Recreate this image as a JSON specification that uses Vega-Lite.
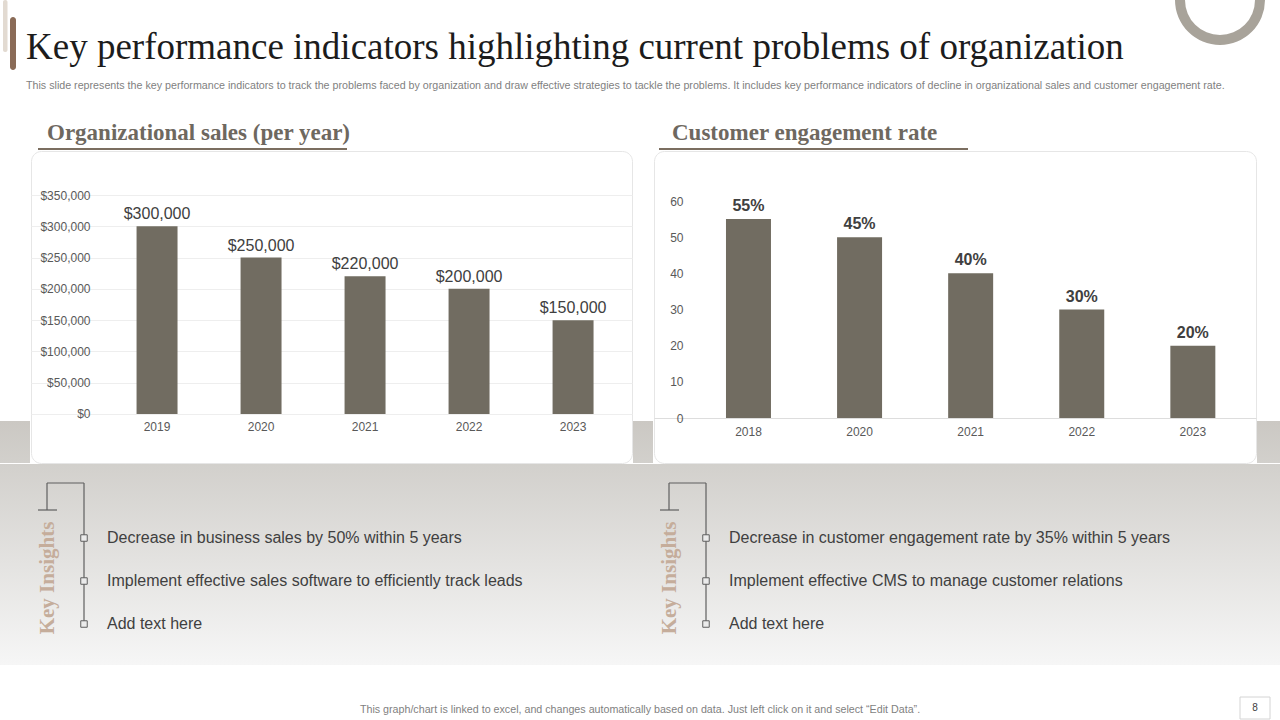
{
  "$schema": "https://vega.github.io/schema/vega-lite/v6.json",
  "background": "white",
  "padding": 0,
  "spacing": 0,
  "config": {
    "view": {"stroke": null},
    "font": "Liberation Sans",
    "axis": {"labelFont": "Liberation Sans"}
  },
  "vconcat": [
    {
      "width": 1280,
      "height": 150,
      "layer": [
        {
          "data": {"values": [{}]},
          "mark": {"type": "rect", "color": "#e2dad1", "cornerRadius": 2},
          "encoding": {"x": {"value": 3}, "x2": {"value": 7.5}, "y": {"value": 0}, "y2": {"value": 52}}
        },
        {
          "data": {"values": [{}]},
          "mark": {"type": "rect", "color": "#8a6b57", "cornerRadius": 3},
          "encoding": {"x": {"value": 10}, "x2": {"value": 16}, "y": {"value": 17}, "y2": {"value": 70}}
        },
        {
          "data": {"values": [{}]},
          "mark": {"type": "arc", "x": 1220, "y": 0, "radius": 45, "radius2": 35, "theta": 0, "theta2": 6.2832, "color": "#a8a39a", "clip": true},
          "encoding": {}
        },
        {
          "data": {"values": [{"text": "Key performance indicators highlighting current problems of organization"}]},
          "mark": {"type": "text", "align": "left", "baseline": "alphabetic", "font": "Liberation Serif", "fontSize": 37, "color": "#1c1c1c"},
          "encoding": {"x": {"value": 26}, "y": {"value": 59}, "text": {"field": "text"}}
        },
        {
          "data": {"values": [{"text": "This slide represents the key performance indicators to track the problems faced by organization and draw effective strategies to tackle the problems. It includes key performance indicators of decline in organizational sales and customer engagement rate."}]},
          "mark": {"type": "text", "align": "left", "baseline": "alphabetic", "font": "Liberation Sans", "fontSize": 10.7, "color": "#7f7f7f"},
          "encoding": {"x": {"value": 26}, "y": {"value": 88.5}, "text": {"field": "text"}}
        },
        {
          "data": {"values": [{"text": "Organizational sales (per year)"}]},
          "mark": {"type": "text", "align": "left", "baseline": "alphabetic", "font": "Liberation Serif", "fontWeight": "bold", "fontSize": 23, "color": "#6e685f"},
          "encoding": {"x": {"value": 47}, "y": {"value": 140}, "text": {"field": "text"}}
        },
        {
          "data": {"values": [{"text": "Customer engagement rate"}]},
          "mark": {"type": "text", "align": "left", "baseline": "alphabetic", "font": "Liberation Serif", "fontWeight": "bold", "fontSize": 23, "color": "#6e685f"},
          "encoding": {"x": {"value": 672}, "y": {"value": 140}, "text": {"field": "text"}}
        },
        {
          "data": {"values": [{}]},
          "mark": {"type": "rule", "color": "#7b6e60", "strokeWidth": 2},
          "encoding": {"x": {"value": 38}, "x2": {"value": 347}, "y": {"value": 149}}
        },
        {
          "data": {"values": [{}]},
          "mark": {"type": "rule", "color": "#7b6e60", "strokeWidth": 2},
          "encoding": {"x": {"value": 659}, "x2": {"value": 968}, "y": {"value": 149}}
        }
      ]
    },
    {
      "spacing": 0,
      "hconcat": [
        {
          "width": 30,
          "height": 312,
          "view": {"fill": {"gradient": "linear", "x1": 0, "y1": 0, "x2": 0, "y2": 1, "stops": [{"offset": 0, "color": "#ffffff"}, {"offset": 0.865, "color": "#ffffff"}, {"offset": 0.866, "color": "#cbc8c3"}, {"offset": 1, "color": "#d2d0cc"}]}},
          "data": {"values": [{}]},
          "mark": "text",
          "encoding": {}
        },
        {
          "width": 601,
          "height": 312,
          "view": {"fill": "white", "stroke": "#e6e6e6", "cornerRadius": 10},
          "data": {"values": [
            {"year": "2019", "sales": 300000},
            {"year": "2020", "sales": 250000},
            {"year": "2021", "sales": 220000},
            {"year": "2022", "sales": 200000},
            {"year": "2023", "sales": 150000}
          ]},
          "encoding": {
            "x": {
              "field": "year", "type": "ordinal",
              "scale": {"paddingInner": 0.606, "paddingOuter": 0.6923, "align": 0.733},
              "axis": {"orient": "bottom", "offset": -49, "title": null, "domain": false, "ticks": false, "tickSize": 0, "labelPadding": 7, "labelFontSize": 12, "labelColor": "#595959", "labelAngle": 0, "grid": false}
            },
            "y": {
              "field": "sales", "type": "quantitative",
              "scale": {"domain": [-78311, 420320], "nice": false, "zero": false},
              "axis": {"orient": "left", "offset": -63, "values": [0, 50000, 100000, 150000, 200000, 250000, 300000, 350000], "format": "$,.0f", "title": null, "domain": false, "ticks": false, "tickSize": 0, "labelPadding": 4, "grid": true, "gridColor": "#eeeeee", "labelFontSize": 12, "labelColor": "#595959"}
            }
          },
          "layer": [
            {"mark": {"type": "bar", "color": "#716c61"}, "encoding": {"y2": {"datum": 0}}},
            {"mark": {"type": "text", "dy": -7, "baseline": "alphabetic", "fontSize": 16, "color": "#404040"}, "encoding": {"text": {"field": "sales", "type": "quantitative", "format": "$,.0f"}}}
          ]
        },
        {
          "width": 20,
          "height": 312,
          "view": {"fill": {"gradient": "linear", "x1": 0, "y1": 0, "x2": 0, "y2": 1, "stops": [{"offset": 0, "color": "#ffffff"}, {"offset": 0.865, "color": "#ffffff"}, {"offset": 0.866, "color": "#cbc8c3"}, {"offset": 1, "color": "#d2d0cc"}]}},
          "data": {"values": [{}]},
          "mark": "text",
          "encoding": {}
        },
        {
          "width": 602,
          "height": 312,
          "view": {"fill": "white", "stroke": "#e6e6e6", "cornerRadius": 10},
          "data": {"values": [
            {"year": "2018", "rate": 55, "label": "55%"},
            {"year": "2020", "rate": 50, "label": "45%"},
            {"year": "2021", "rate": 40, "label": "40%"},
            {"year": "2022", "rate": 30, "label": "30%"},
            {"year": "2023", "rate": 20, "label": "20%"}
          ]},
          "encoding": {
            "x": {
              "field": "year", "type": "ordinal",
              "scale": {"paddingInner": 0.595, "paddingOuter": 0.507, "align": 0.639},
              "axis": {"orient": "bottom", "offset": -45, "title": null, "domain": true, "domainColor": "#dddddd", "ticks": false, "tickSize": 0, "labelPadding": 8, "labelFontSize": 12, "labelColor": "#595959", "labelAngle": 0, "grid": false}
            },
            "y": {
              "field": "rate", "type": "quantitative",
              "scale": {"domain": [-12.44, 73.825], "nice": false, "zero": false},
              "axis": {"orient": "left", "offset": -33, "values": [0, 10, 20, 30, 40, 50, 60], "title": null, "domain": false, "ticks": false, "tickSize": 0, "labelPadding": 4, "grid": false, "labelFontSize": 12, "labelColor": "#595959"}
            }
          },
          "layer": [
            {"mark": {"type": "bar", "color": "#716c61"}, "encoding": {"y2": {"datum": 0}}},
            {"mark": {"type": "text", "dy": -8, "baseline": "alphabetic", "fontSize": 16, "fontWeight": "bold", "color": "#404040"}, "encoding": {"text": {"field": "label"}}}
          ]
        },
        {
          "width": 27,
          "height": 312,
          "view": {"fill": {"gradient": "linear", "x1": 0, "y1": 0, "x2": 0, "y2": 1, "stops": [{"offset": 0, "color": "#ffffff"}, {"offset": 0.865, "color": "#ffffff"}, {"offset": 0.866, "color": "#cbc8c3"}, {"offset": 1, "color": "#d2d0cc"}]}},
          "data": {"values": [{}]},
          "mark": "text",
          "encoding": {}
        }
      ]
    },
    {
      "spacing": 0,
      "hconcat": [
        {
          "width": 622,
          "height": 201,
          "view": {"fill": {"gradient": "linear", "x1": 0, "y1": 0, "x2": 0, "y2": 1, "stops": [{"offset": 0, "color": "#d2d0cc"}, {"offset": 1, "color": "#f6f6f6"}]}},
          "data": {"values": [
            {"order": 1, "text": "Decrease in business sales by 50% within 5 years"},
            {"order": 2, "text": "Implement effective sales software to efficiently track leads"},
            {"order": 3, "text": "Add text here"}
          ]},
          "encoding": {
            "y": {"field": "order", "type": "quantitative", "scale": {"domain": [-0.721, 3.953], "reverse": true, "nice": false, "zero": false}, "axis": null}
          },
          "layer": [
            {"data": {"values": [{}]}, "mark": {"type": "rule", "color": "#5f5f5f", "strokeWidth": 1.2}, "encoding": {"x": {"value": 47}, "x2": {"value": 84}, "y": {"value": 19}}},
            {"data": {"values": [{}]}, "mark": {"type": "rule", "color": "#5f5f5f", "strokeWidth": 1.2}, "encoding": {"x": {"value": 47}, "y": {"value": 19}, "y2": {"value": 46}}},
            {"data": {"values": [{}]}, "mark": {"type": "rule", "color": "#5f5f5f", "strokeWidth": 1.2}, "encoding": {"x": {"value": 38}, "x2": {"value": 57}, "y": {"value": 46}}},
            {"data": {"values": [{}]}, "mark": {"type": "rule", "color": "#5f5f5f", "strokeWidth": 1.2}, "encoding": {"x": {"value": 84}, "y": {"value": 19}, "y2": {"value": 160}}},
            {"data": {"values": [{"text": "Key Insights"}]}, "mark": {"type": "text", "angle": 270, "align": "center", "baseline": "middle", "font": "Liberation Serif", "fontWeight": "bold", "fontSize": 21, "color": "#c5ad9b"}, "encoding": {"x": {"value": 48}, "y": {"value": 114}, "text": {"field": "text"}}},
            {"mark": {"type": "point", "shape": "square", "size": 42, "filled": true, "fill": "#ebebeb", "stroke": "#5f5f5f", "strokeWidth": 1, "opacity": 1}, "encoding": {"x": {"value": 84}}},
            {"mark": {"type": "text", "align": "left", "baseline": "middle", "fontSize": 16, "color": "#404040"}, "encoding": {"x": {"value": 107}, "text": {"field": "text"}}}
          ]
        },
        {
          "width": 658,
          "height": 201,
          "view": {"fill": {"gradient": "linear", "x1": 0, "y1": 0, "x2": 0, "y2": 1, "stops": [{"offset": 0, "color": "#d2d0cc"}, {"offset": 1, "color": "#f6f6f6"}]}},
          "data": {"values": [
            {"order": 1, "text": "Decrease in customer engagement rate by 35% within 5 years"},
            {"order": 2, "text": "Implement effective CMS to manage customer relations"},
            {"order": 3, "text": "Add text here"}
          ]},
          "encoding": {
            "y": {"field": "order", "type": "quantitative", "scale": {"domain": [-0.721, 3.953], "reverse": true, "nice": false, "zero": false}, "axis": null}
          },
          "layer": [
            {"data": {"values": [{}]}, "mark": {"type": "rule", "color": "#5f5f5f", "strokeWidth": 1.2}, "encoding": {"x": {"value": 47}, "x2": {"value": 84}, "y": {"value": 19}}},
            {"data": {"values": [{}]}, "mark": {"type": "rule", "color": "#5f5f5f", "strokeWidth": 1.2}, "encoding": {"x": {"value": 47}, "y": {"value": 19}, "y2": {"value": 46}}},
            {"data": {"values": [{}]}, "mark": {"type": "rule", "color": "#5f5f5f", "strokeWidth": 1.2}, "encoding": {"x": {"value": 38}, "x2": {"value": 57}, "y": {"value": 46}}},
            {"data": {"values": [{}]}, "mark": {"type": "rule", "color": "#5f5f5f", "strokeWidth": 1.2}, "encoding": {"x": {"value": 84}, "y": {"value": 19}, "y2": {"value": 160}}},
            {"data": {"values": [{"text": "Key Insights"}]}, "mark": {"type": "text", "angle": 270, "align": "center", "baseline": "middle", "font": "Liberation Serif", "fontWeight": "bold", "fontSize": 21, "color": "#c5ad9b"}, "encoding": {"x": {"value": 48}, "y": {"value": 114}, "text": {"field": "text"}}},
            {"mark": {"type": "point", "shape": "square", "size": 42, "filled": true, "fill": "#ebebeb", "stroke": "#5f5f5f", "strokeWidth": 1, "opacity": 1}, "encoding": {"x": {"value": 84}}},
            {"mark": {"type": "text", "align": "left", "baseline": "middle", "fontSize": 16, "color": "#404040"}, "encoding": {"x": {"value": 107}, "text": {"field": "text"}}}
          ]
        }
      ]
    },
    {
      "width": 1280,
      "height": 57,
      "layer": [
        {
          "data": {"values": [{"text": "This graph/chart is linked to excel, and changes automatically based on data. Just left click on it and select \u201cEdit Data\u201d."}]},
          "mark": {"type": "text", "align": "center", "baseline": "alphabetic", "fontSize": 10.7, "color": "#7f7f7f"},
          "encoding": {"x": {"value": 640}, "y": {"value": 47.5}, "text": {"field": "text"}}
        },
        {
          "data": {"values": [{}]},
          "mark": {"type": "rect", "fill": "white", "stroke": "#d4d4d4", "strokeWidth": 1},
          "encoding": {"x": {"value": 1240}, "x2": {"value": 1270}, "y": {"value": 32}, "y2": {"value": 54}}
        },
        {
          "data": {"values": [{"text": "8"}]},
          "mark": {"type": "text", "align": "center", "baseline": "middle", "fontSize": 10, "color": "#404040"},
          "encoding": {"x": {"value": 1255}, "y": {"value": 43}, "text": {"field": "text"}}
        }
      ]
    }
  ]
}
